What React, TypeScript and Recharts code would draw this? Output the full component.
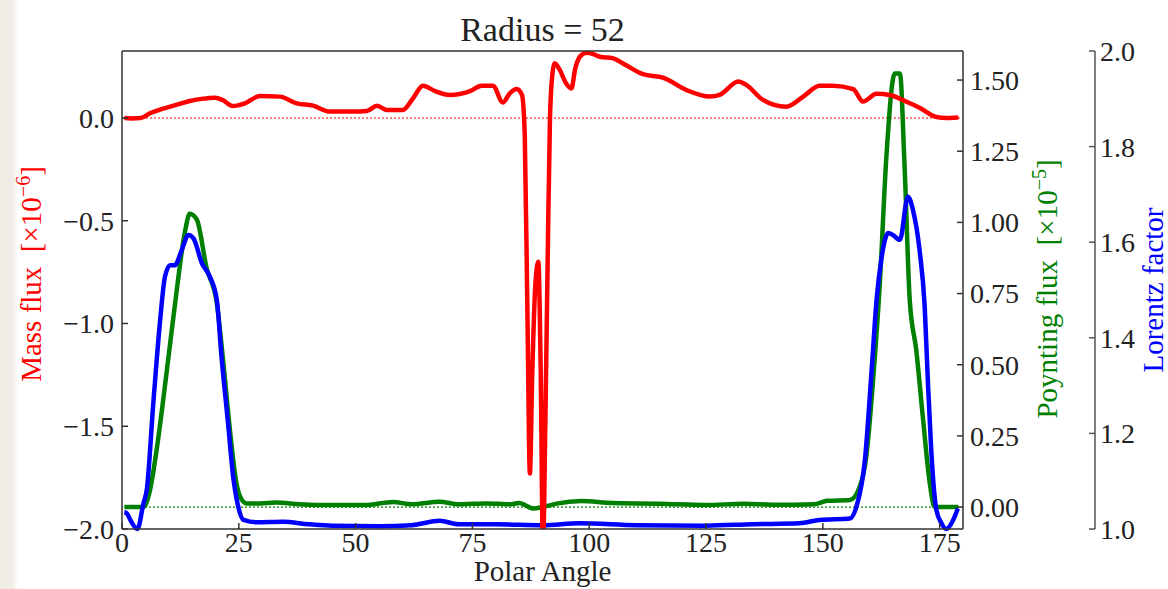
import { Label, Line, LineChart, ReferenceLine, XAxis, YAxis } from "recharts";

const serif = '"Liberation Serif", "Times New Roman", serif';

const angleTicks = [0, 25, 50, 75, 100, 125, 150, 175];
const massTicks = [-2, -1.5, -1, -0.5, 0];
const poyntingTicks = [0, 0.25, 0.5, 0.75, 1, 1.25, 1.5];
const lorentzTicks = [1, 1.2, 1.4, 1.6, 1.8, 2];

// mass flux [x1e-6] vs polar angle
const massAngle = [
  0.5, 2, 4, 6, 8, 10.3, 12.5, 14.5, 17, 19.9, 21.5, 23.7, 26.3, 29.5, 33.8, 37.4, 40.9, 44.5, 49.4, 52.4,
  54.6, 56.7, 60.1, 62.3, 64.4, 67, 70.2, 74.5, 77, 79.4, 81.5, 83, 84.5, 85.6, 86.2, 86.8, 87.3, 87.8, 88.5,
  89.1, 89.6, 90.1, 90.6, 91.1, 91.6, 92.2, 92.6, 93.7, 95, 96.2, 97, 98, 99.4, 101, 102.3, 105.1, 108, 111.5,
  115.8, 120.8, 125.8, 127.9, 131.9, 133.6, 137.2, 142.2, 145.8, 149.3, 152.2, 156.5, 158.6, 161.5, 164.3,
  167.9, 170.7, 174.3, 176.5, 179,
];
const massFlux = [
  0.0, -0.002, 0.0, 0.023, 0.04, 0.055, 0.07, 0.083, 0.093, 0.099, 0.088, 0.058, 0.071, 0.107, 0.104, 0.071,
  0.06, 0.031, 0.031, 0.034, 0.06, 0.039, 0.039, 0.096, 0.157, 0.131, 0.112, 0.131, 0.157, 0.157, 0.076, 0.12,
  0.141, 0.112, -0.08, -1.0, -1.73, -1.25, -0.8, -0.7, -1.2, -2.1, -1.5, -0.7, 0.0, 0.23, 0.266, 0.234, 0.17,
  0.144, 0.24, 0.298, 0.318, 0.31, 0.298, 0.29, 0.255, 0.213, 0.196, 0.136, 0.104, 0.112, 0.177, 0.161, 0.088,
  0.055, 0.104, 0.157, 0.157, 0.14, 0.08, 0.118, 0.112, 0.079, 0.05, 0.005, 0.0, 0.002,
];

// poynting flux [x1e-5]
const poyntingAngle = [
  0.5, 4.6, 6, 7.4, 9.6, 11.7, 13.5, 14.5, 16, 18.1, 20.3, 21.7, 23.1, 24.5, 25.5, 26.7, 29.5, 33, 38, 45, 52,
  58, 62, 68, 72, 78, 83, 85, 88, 90, 93, 98.3, 105, 115, 125, 133, 140, 148, 151, 155.8, 157.9, 159.3, 160.7,
  162.2, 163.6, 165.4, 166.5, 167.5, 168.6, 170, 171.4, 172.9, 173.9, 176, 179,
];
const poyntingFlux = [
  0.0, 0.0, 0.06, 0.2, 0.48, 0.76, 0.97, 1.03, 1.01, 0.84, 0.715, 0.505, 0.27, 0.083, 0.03, 0.013, 0.013, 0.016,
  0.01, 0.007, 0.007, 0.018, 0.01, 0.019, 0.01, 0.013, 0.01, 0.014, -0.005, 0.0, 0.012, 0.021, 0.014, 0.012,
  0.007, 0.012, 0.008, 0.01, 0.022, 0.025, 0.071, 0.177, 0.434, 0.786, 1.23, 1.523, 1.523, 1.195, 0.727, 0.551,
  0.317, 0.083, 0.001, 0.0, 0.0,
];

// lorentz factor
const lorentzAngle = [
  0.5, 1, 2, 3.3, 4.6, 5.3, 6.7, 8.1, 9.2, 10.3, 11.3, 12.8, 14.2, 15.3, 17.1, 18.8, 20.3, 21.3, 22.7, 23.8,
  24.8, 26, 28.8, 34.4, 40, 45, 55, 62, 68, 72, 80, 90, 98, 110, 125, 135, 145, 149.3, 155.8, 157.2, 159, 160.5,
  161.5, 162.5, 164, 165, 166.5, 168.2, 169.3, 170.7, 171.8, 172.5, 173.2, 174.3, 175.4, 176.4, 177.9, 178.9,
];
const lorentzFactor = [
  1.035, 1.033, 1.015, 1.0, 1.054, 1.082, 1.263, 1.43, 1.528, 1.552, 1.552, 1.584, 1.615, 1.608, 1.556, 1.528,
  1.479, 1.36, 1.221, 1.109, 1.05, 1.019, 1.014, 1.015, 1.01, 1.007, 1.006, 1.008, 1.017, 1.01, 1.01, 1.008,
  1.012, 1.008, 1.007, 1.01, 1.012, 1.019, 1.022, 1.047, 1.144, 1.34, 1.479, 1.563, 1.619, 1.615, 1.605, 1.695,
  1.667, 1.584, 1.465, 1.305, 1.165, 1.04, 1.012, 1.0, 1.019, 1.043,
];

const massData = massAngle.map((angle, i) => ({ angle, value: massFlux[i] }));
const poyntingData = poyntingAngle.map((angle, i) => ({ angle, value: poyntingFlux[i] }));
const lorentzData = lorentzAngle.map((angle, i) => ({ angle, value: lorentzFactor[i] }));

const minus = (s: string) => s.replace("-", "\u2212");
const tickStyle = { fill: "#222", fontSize: 28, fontFamily: serif };

type TitleProps = { ax: number; ay: number; color: string; main: string; exp?: string };

function AxisTitle({ ax, ay, color, main, exp }: TitleProps) {
  return (
    <text
      x={ax}
      y={ay}
      transform={`rotate(-90 ${ax} ${ay})`}
      textAnchor="middle"
      fill={color}
      fontSize={29}
      fontFamily={serif}
    >
      {main}
      {exp ? (
        <>
          {"\u00a0\u00a0[\u00d710"}
          <tspan dy={-11} fontSize={20}>
            {exp}
          </tspan>
          <tspan dy={11}>]</tspan>
        </>
      ) : null}
    </text>
  );
}

export default function App() {
  return (
    <div style={{ position: "absolute", left: 0, top: 0, width: 1168, height: 589, background: "#fff" }}>
      <div
        style={{
          position: "absolute",
          left: 0,
          top: 0,
          width: 20,
          height: 589,
          background: "linear-gradient(to right, #efece6 0px, #efece6 12px, #ffffff 18px)",
        }}
      />
      <LineChart
        width={1168}
        height={589}
        margin={{ top: 50, right: 0, bottom: 0, left: 0 }}
        style={{ position: "absolute", left: 0, top: 0 }}
      >
        <XAxis
          dataKey="angle"
          type="number"
          domain={[0, 180]}
          ticks={angleTicks}
          height={60}
          tick={tickStyle}
          tickSize={-6}
          tickMargin={9}
          stroke="#333"
          strokeWidth={1.5}
        >
          <Label value="Polar Angle" position="insideBottom" offset={8} fontSize={29} fill="#222" fontFamily={serif} />
        </XAxis>
        <XAxis
          xAxisId="top"
          orientation="top"
          type="number"
          domain={[0, 180]}
          ticks={angleTicks}
          height={1}
          tickFormatter={() => ""}
          tickSize={-6}
          stroke="#333"
          strokeWidth={1.5}
        >
          <Label value="Radius = 52" position="top" offset={9} fontSize={34} fill="#222" fontFamily={serif} />
        </XAxis>
        <YAxis
          yAxisId="a_mass"
          orientation="left"
          width={122}
          domain={[-2.0, 0.326]}
          allowDataOverflow
          ticks={massTicks}
          tickFormatter={(v) => minus(Number(v).toFixed(1))}
          tick={tickStyle}
          tickSize={-6}
          tickMargin={14}
          stroke="#333"
          strokeWidth={1.5}
          label={<AxisTitle ax={41} ay={274} color="#ff0000" main="Mass flux" exp={"\u22126"} />}
        />
        <YAxis
          yAxisId="b_poynting"
          orientation="right"
          width={132}
          domain={[-0.077, 1.602]}
          allowDataOverflow
          ticks={poyntingTicks}
          tickFormatter={(v) => Number(v).toFixed(2)}
          tick={tickStyle}
          tickSize={-6}
          tickMargin={13}
          stroke="#333"
          strokeWidth={1.5}
          label={<AxisTitle ax={1057} ay={289} color="#008000" main="Poynting flux" exp={"\u22125"} />}
        />
        <YAxis
          yAxisId="c_lorentz"
          orientation="right"
          width={73}
          domain={[1, 2]}
          ticks={lorentzTicks}
          tickFormatter={(v) => Number(v).toFixed(1)}
          tick={tickStyle}
          tickSize={-6}
          tickMargin={11}
          stroke="#555"
          strokeWidth={1.5}
          label={<AxisTitle ax={1163} ay={290} color="#0000ff" main="Lorentz factor" />}
        />
        <ReferenceLine yAxisId="a_mass" y={0} stroke="#ff0000" strokeWidth={1.2} strokeDasharray="2 2" />
        <ReferenceLine yAxisId="b_poynting" y={0} stroke="#008000" strokeWidth={1.2} strokeDasharray="2 2" />
        <Line
          yAxisId="b_poynting"
          data={poyntingData}
          dataKey="value"
          type="monotone"
          stroke="#008000"
          strokeWidth={4.5}
          dot={false}
          activeDot={false}
          isAnimationActive={false}
        />
        <Line
          yAxisId="c_lorentz"
          data={lorentzData}
          dataKey="value"
          type="monotone"
          stroke="#0000ff"
          strokeWidth={4.5}
          dot={false}
          activeDot={false}
          isAnimationActive={false}
        />
        <Line
          yAxisId="a_mass"
          data={massData}
          dataKey="value"
          type="monotone"
          stroke="#ff0000"
          strokeWidth={4.5}
          dot={false}
          activeDot={false}
          isAnimationActive={false}
        />
      </LineChart>
    </div>
  );
}
